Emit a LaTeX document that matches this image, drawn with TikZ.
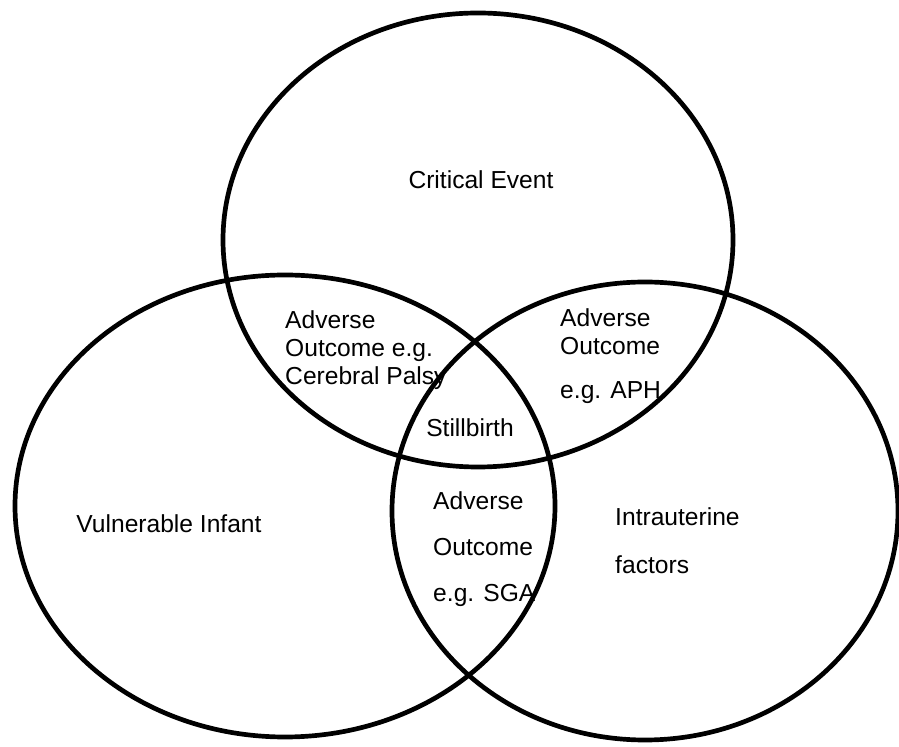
\documentclass[tikz,border=0pt]{standalone}
\usepackage{fontspec}
\setmainfont{Liberation Sans}
\usepackage{tikz}
\usetikzlibrary{positioning}

\begin{document}
\begin{tikzpicture}[x=0.3mm, y=0.3mm,
  set/.style={line width=4pt, black},
  lbl/.style={inner sep=0pt, font=\fontsize{21}{24}\selectfont},
  blk/.style={lbl, align=left, anchor=west}]

\useasboundingbox (0,0) rectangle (899,747);

% --- Three sets ---
\draw[set] (478,507) ellipse [x radius=255, y radius=227];
\draw[set] (285,241) ellipse [x radius=270, y radius=231];
\draw[set] (645,236) ellipse [x radius=253, y radius=229];

% --- Set labels ---
\node[lbl] (event) at (481,567) {Critical Event};
\node[lbl] (infant) at (169,223) {Vulnerable Infant};
\node[blk] (intra) at (615,206) {Intrauterine\\[17pt]factors};

% --- Overlaps ---
\node[blk] (palsy) at (285,397) {Adverse\\Outcome e.g.\\Cerebral Palsy};
\node[blk] (aph) at (560,391) {Adverse\\Outcome\\[13pt]e.g. APH};
\node[blk] (sga) at (433,198) {Adverse\\[15pt]Outcome\\[15pt]e.g. SGA};
\node[lbl] (still) at (470,319) {Stillbirth};
\end{tikzpicture}
\end{document}
